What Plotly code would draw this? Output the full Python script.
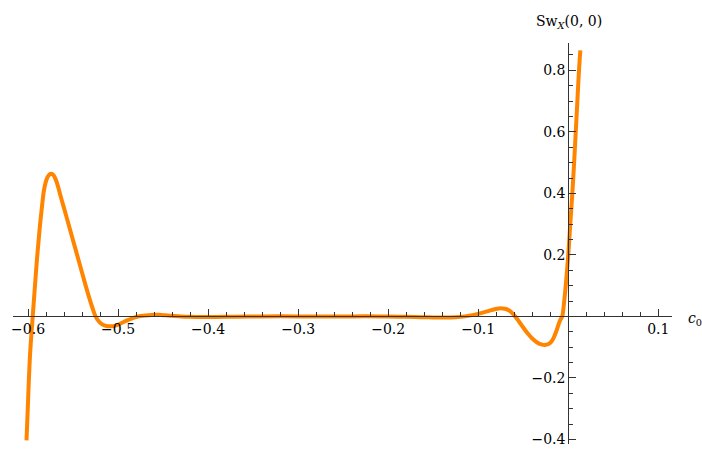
import plotly.graph_objects as go

# Sampled curve Sw_X(0, 0) versus c0
c0 = [-0.6017, -0.6003, -0.5990, -0.5977, -0.5962, -0.5948, -0.5924, -0.5900, -0.5884,
      -0.5867, -0.5847, -0.5826, -0.5805, -0.5785, -0.5763, -0.5741, -0.5720, -0.5700,
      -0.5680, -0.5660, -0.5640, -0.5620, -0.5600, -0.5560, -0.5520, -0.5480, -0.5440,
      -0.5400, -0.5360, -0.5320, -0.5285, -0.5250, -0.5215, -0.5180, -0.5145, -0.5110,
      -0.5073, -0.5040, -0.5000, -0.4950, -0.4900, -0.4850, -0.4800, -0.4750, -0.4700,
      -0.4650, -0.4600, -0.4550, -0.4500, -0.4450, -0.4400, -0.4300, -0.4200, -0.4000,
      -0.3700, -0.3400, -0.3000, -0.2700, -0.2400, -0.2100, -0.1900, -0.1700, -0.1550,
      -0.1400, -0.1250, -0.1150, -0.1050, -0.0950, -0.0880, -0.0820, -0.0770, -0.0730,
      -0.0690, -0.0650, -0.0620, -0.0590, -0.0550, -0.0500, -0.0450, -0.0400, -0.0350,
      -0.0300, -0.0260, -0.0220, -0.0190, -0.0160, -0.0135, -0.0110, -0.0090, -0.0067,
      -0.0045, -0.0025, 0.0000, 0.0022, 0.0045, 0.0065, 0.0083, 0.0101, 0.0119, 0.0134]
sw_x = [-0.403, -0.300, -0.200, -0.120, -0.055, 0.000, 0.096, 0.189, 0.242,
        0.297, 0.352, 0.405, 0.435, 0.452, 0.461, 0.464, 0.460, 0.450,
        0.435, 0.415, 0.393, 0.372, 0.352, 0.310, 0.268, 0.226, 0.184,
        0.142, 0.100, 0.060, 0.028, 0.000, -0.016, -0.025, -0.030, -0.032,
        -0.032, -0.031, -0.027, -0.020, -0.013, -0.007, -0.002, 0.001, 0.003,
        0.004, 0.005, 0.005, 0.004, 0.003, 0.002, 0.000, -0.001, -0.002,
        -0.001, 0.000, 0.000, 0.000, 0.000, 0.000, -0.001, -0.002, -0.003,
        -0.004, -0.003, 0.000, 0.005, 0.012, 0.018, 0.023, 0.026, 0.026,
        0.024, 0.018, 0.010, 0.000, -0.016, -0.036, -0.056, -0.072, -0.084,
        -0.091, -0.093, -0.090, -0.083, -0.068, -0.050, -0.028, -0.012, 0.000,
        0.050, 0.110, 0.200, 0.300, 0.400, 0.500, 0.600, 0.700, 0.800, 0.865]

x_major = [-0.6, -0.5, -0.4, -0.3, -0.2, -0.1, 0.1]
y_major = [-0.4, -0.2, 0.2, 0.4, 0.6, 0.8]
x_minor = [round(-0.62 + 0.02 * i, 2) for i in range(37)]
y_minor = [round(-0.40 + 0.05 * i, 2) for i in range(26)]

x_range = [-0.6167, 0.1152]
y_range = [-0.415, 0.889]

axis_color = "#333333"
text_font = dict(family="DejaVu Serif", size=14, color="black")

fig = go.Figure()
fig.add_trace(go.Scatter(
    x=c0, y=sw_x, mode="lines",
    line=dict(color="rgb(255,133,0)", width=4, shape="spline", smoothing=0.8),
    hoverinfo="skip",
))

fig.update_layout(
    width=702, height=450,
    margin=dict(l=13, r=30, t=43, b=3),
    paper_bgcolor="white", plot_bgcolor="white",
    showlegend=False,
    font=text_font,
    xaxis=dict(
        range=x_range, anchor="free",
        position=(0 - y_range[0]) / (y_range[1] - y_range[0]),
        showgrid=False, zeroline=False,
        showline=True, linecolor=axis_color, linewidth=1,
        tickmode="array", tickvals=x_major,
        ticks="inside", ticklen=7, tickcolor=axis_color, tickwidth=1,
        minor=dict(tickmode="array", tickvals=x_minor, ticks="inside",
                   ticklen=4, tickcolor=axis_color, tickwidth=1),
        tickfont=text_font, ticklabeloverflow="allow",
    ),
    yaxis=dict(
        range=y_range, anchor="free",
        position=(0 - x_range[0]) / (x_range[1] - x_range[0]),
        showgrid=False, zeroline=False,
        showline=True, linecolor=axis_color, linewidth=1,
        tickmode="array", tickvals=y_major,
        ticks="inside", ticklen=7, tickcolor=axis_color, tickwidth=1,
        minor=dict(tickmode="array", tickvals=y_minor, ticks="inside",
                   ticklen=4, tickcolor=axis_color, tickwidth=1),
        tickfont=text_font, ticklabeloverflow="allow",
    ),
    annotations=[
        dict(x=0.843, y=1.052, xref="paper", yref="paper", showarrow=False,
             text="Sw<sub><i>X</i></sub>(0, 0)", xanchor="center", yanchor="middle",
             font=text_font),
        dict(x=1.021, y=0.312, xref="paper", yref="paper", showarrow=False,
             text="<i>c</i><sub>0</sub>", xanchor="left", yanchor="middle",
             font=text_font),
    ],
)

fig.write_html("out.html")
